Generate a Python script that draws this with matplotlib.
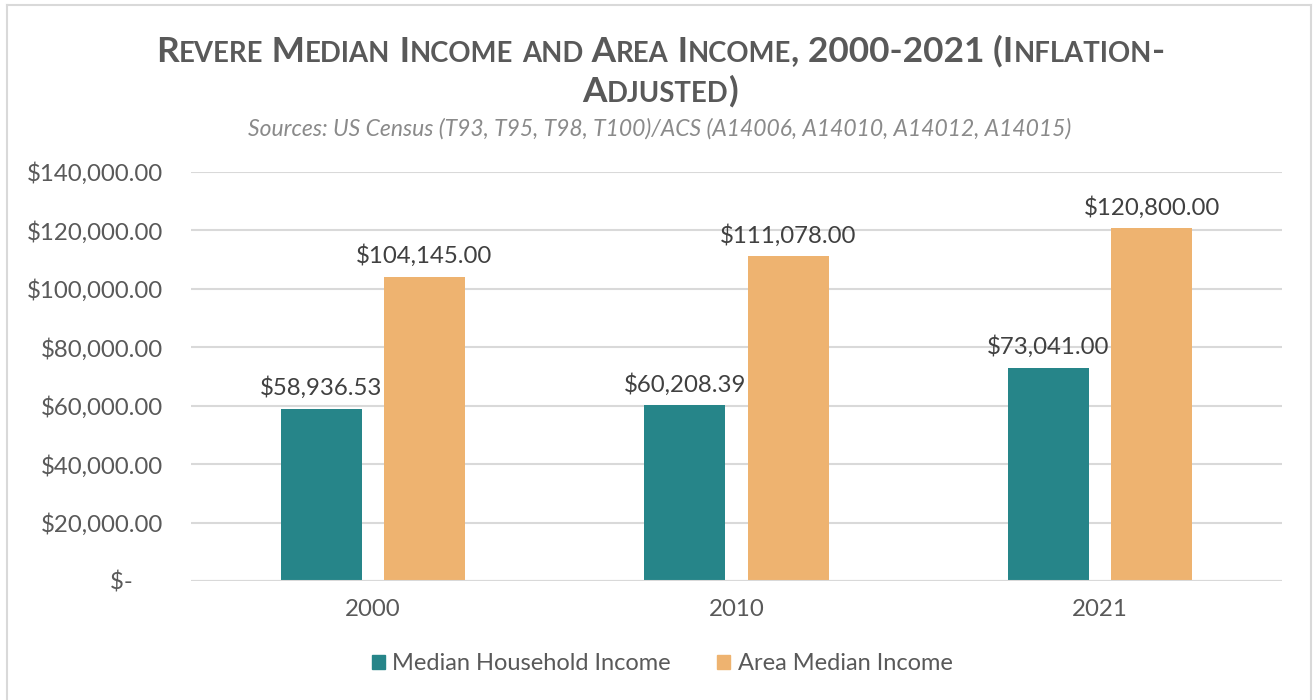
import numpy as np
import matplotlib
matplotlib.use("Agg")
from matplotlib import pyplot as plt
from matplotlib.patches import Rectangle
from matplotlib.lines import Line2D

years = ["2000", "2010", "2021"]
household = [58936.53, 60208.39, 73041.00]
area = [104145.00, 111078.00, 120800.00]
series_names = ["Median Household Income", "Area Median Income"]
yticks = [0, 20000, 40000, 60000, 80000, 100000, 120000, 140000]

teal = "#268589"
orange = "#EEB370"
txt = "#595959"
grid = "#d9d9d9"

plt.rcParams['font.family'] = ['Lato', 'DejaVu Sans']

W, H = 1313, 700
fig = plt.figure(figsize=(W / 100, H / 100), dpi=100)
ax = fig.add_axes([191 / W, 1 - 581 / H, (1282 - 191) / W, (581 - 172) / H])

x = np.arange(len(years))
bw = 0.223
off = 0.142
ax.bar(x - off, household, bw, color=teal, zorder=3)
ax.bar(x + off, area, bw, color=orange, zorder=3)

def money(v):
    return "${:,.2f}".format(v)

for xi, v in zip(x - off, household):
    ax.text(xi, v + 3300, money(v), ha="center", va="bottom", fontsize=17.3, color="#404040")
for xi, v in zip(x + off, area):
    ax.text(xi, v + 3300, money(v), ha="center", va="bottom", fontsize=17.3, color="#404040")

ax.set_xlim(-0.5, 2.5)
ax.set_ylim(0, 140000)
ax.set_yticks(yticks)
ax.set_yticklabels([money(v) if v else "$-     " for v in yticks])
ax.set_xticks(x)
ax.set_xticklabels(years)
ax.tick_params(axis="y", length=0, pad=20, labelsize=17.3, labelcolor=txt)
ax.tick_params(axis="x", length=0, pad=13, labelsize=17.3, labelcolor=txt)
ax.grid(axis="y", color=grid, linewidth=1.5, zorder=0)
for s in ax.spines.values():
    s.set_visible(False)
ax.axhline(0, color=grid, linewidth=1.5, zorder=4)

# small caps title, drawn piece by piece
renderer = fig.canvas.get_renderer()

def small_caps(line, ypix, size):
    pieces = []
    buf = ""
    cur = None
    for ch in line:
        kind = "low" if ch.islower() else "up"
        if cur is None or kind == cur:
            buf += ch
        else:
            pieces.append((buf, cur))
            buf = ch
        cur = kind
    pieces.append((buf, cur))
    texts = []
    total = 0
    for s, k in pieces:
        fs = size * 0.78 if k == "low" else size
        t = fig.text(0, 1 - ypix / H, s.upper(), fontsize=fs, fontweight="bold",
                     color=txt, va="baseline", ha="left")
        w = t.get_window_extent(renderer).width
        texts.append((t, w))
        total += w
    xp = (W - total) / 2 + 4
    for t, w in texts:
        t.set_x(xp / W)
        xp += w

small_caps("Revere Median Income and Area Income, 2000-2021 (Inflation-", 62, 25.4)
small_caps("Adjusted)", 102, 25.4)

fig.text(660 / W, 1 - 129 / H, "Sources: US Census (T93, T95, T98, T100)/ACS (A14006, A14010, A14012, A14015)",
         ha="center", va="center", fontsize=16.5, style="italic", color="#8a8a8a")

handles = [Rectangle((0, 0), 1, 1, color=teal), Rectangle((0, 0), 1, 1, color=orange)]
fig.legend(handles, series_names, loc="center", bbox_to_anchor=(662 / W, 1 - 664 / H),
           ncol=2, frameon=False, fontsize=17, labelcolor=txt, handlelength=0.55,
           handleheight=0.55, handletextpad=0.3, columnspacing=2.0)

# chart border
fig.add_artist(Line2D([7 / W, 7 / W], [0, 1 - 5 / H], color=grid, linewidth=1.5))
fig.add_artist(Line2D([1311 / W, 1311 / W], [0, 1 - 5 / H], color=grid, linewidth=1.5))
fig.add_artist(Line2D([7 / W, 1311 / W], [1 - 5 / H, 1 - 5 / H], color=grid, linewidth=1.5))

fig.savefig("out.png", dpi=100)
